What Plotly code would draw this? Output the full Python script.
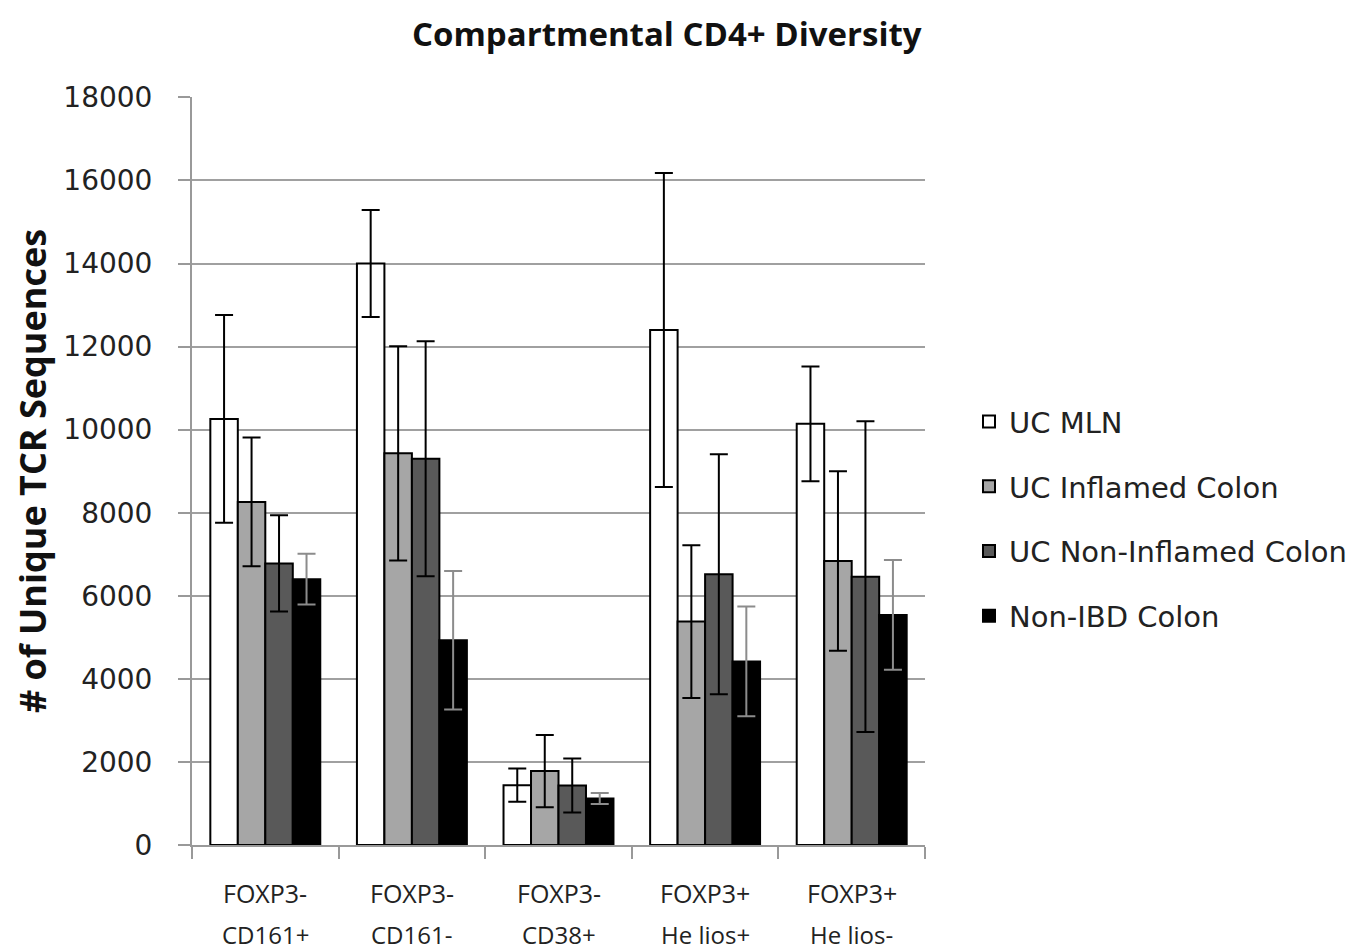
import plotly.graph_objects as go

categories = ["FOXP3- CD161+", "FOXP3- CD161-", "FOXP3- CD38+", "FOXP3+ Helios+", "FOXP3+ Helios-"]
label_line1 = ["FOXP3-", "FOXP3-", "FOXP3-", "FOXP3+", "FOXP3+"]
label_line2 = ["CD161+", "CD161-", "CD38+", "He lios+", "He lios-"]
chart_title = "Compartmental CD4+ Diversity"

series_names = ["UC MLN", "UC Inflamed Colon", "UC Non-Inflamed Colon", "Non-IBD Colon"]
uc_mln = [10260, 14000, 1440, 12400, 10140]
uc_mln_err = [2500, 1290, 400, 3780, 1380]
uc_inflamed = [8260, 9430, 1780, 5380, 6840]
uc_inflamed_err = [1550, 2580, 870, 1840, 2160]
uc_noninflamed = [6780, 9300, 1430, 6520, 6460]
uc_noninflamed_err = [1160, 2830, 650, 2890, 3740]
non_ibd = [6400, 4930, 1120, 4420, 5540]
non_ibd_err = [610, 1670, 135, 1320, 1320]

y_ticks = [0, 2000, 4000, 6000, 8000, 10000, 12000, 14000, 16000, 18000]
y_tick_text = ["0", "2000", "4000", "6000", "8000", "10000", "12000", "14000", "16000", "18000"]

values = [uc_mln, uc_inflamed, uc_noninflamed, non_ibd]
errors = [uc_mln_err, uc_inflamed_err, uc_noninflamed_err, non_ibd_err]
fills = ["#ffffff", "#a6a6a6", "#595959", "#000000"]
err_colors = ["#000000", "#000000", "#000000", "#8c8c8c"]

W, H = 1360, 943  # page body margin of 8px offsets the figure

fig = go.Figure()
for i, name in enumerate(series_names):
    fig.add_trace(go.Bar(
        name=name, x=categories, y=values[i],
        legendgroup=name,
        marker=dict(color=fills[i], line=dict(color="#000000", width=2)),
        error_y=dict(type="data", array=errors[i], visible=True,
                     color=err_colors[i], thickness=2, width=9),
    ))

annotations = []
for c, l1, l2 in zip(categories, label_line1, label_line2):
    annotations.append(dict(x=c, y=-0.064, xref="x", yref="paper", text=l1,
                            showarrow=False, yanchor="middle",
                            font=dict(family="Open Sans", size=25, color="#222222")))
    annotations.append(dict(x=c, y=-0.119, xref="x", yref="paper", text=l2,
                            showarrow=False, yanchor="middle",
                            font=dict(family="Open Sans", size=24, color="#222222")))
# chart title
annotations.append(dict(x=(665 - 8 - 179) / 738, y=1 + (89 - 25) / 748, xref="paper", yref="paper",
                        text="<b>" + chart_title + "</b>", showarrow=False,
                        xanchor="center", yanchor="middle",
                        font=dict(family="Open Sans", size=33, color="#111111")))

fig.update_layout(
    width=W, height=H,
    margin=dict(l=179, r=443, t=89, b=106),
    paper_bgcolor="white", plot_bgcolor="white",
    barmode="group", bargap=0.25, bargroupgap=0,
    legend=dict(x=1.06, y=0.6, xanchor="left", yanchor="top",
                traceorder="grouped", tracegroupgap=24,
                font=dict(family="DejaVu Sans", size=29, color="#222222"),
                bgcolor="rgba(0,0,0,0)"),
    annotations=annotations,
    showlegend=True,
)
fig.update_xaxes(type="category", showticklabels=False, tickson="boundaries",
                 ticks="outside", ticklen=12, tickcolor="#999999", tickwidth=2,
                 showline=True, linecolor="#999999", linewidth=2, showgrid=False)
fig.update_yaxes(range=[0, 18010], tickvals=y_ticks, ticktext=y_tick_text,
                 ticks="outside", ticklen=12,
                 tickcolor="#999999", tickwidth=2, showline=True, linecolor="#999999",
                 linewidth=2, showgrid=True, gridcolor="#a0a0a0", gridwidth=2,
                 zeroline=False, ticklabelstandoff=20,
                 tickfont=dict(family="DejaVu Sans", size=28, color="#222222"),
                 title=dict(text="<b># of Unique TCR Sequences</b>", standoff=18,
                            font=dict(family="Open Sans", size=36, color="#111111")))

fig.write_html("out.html")
